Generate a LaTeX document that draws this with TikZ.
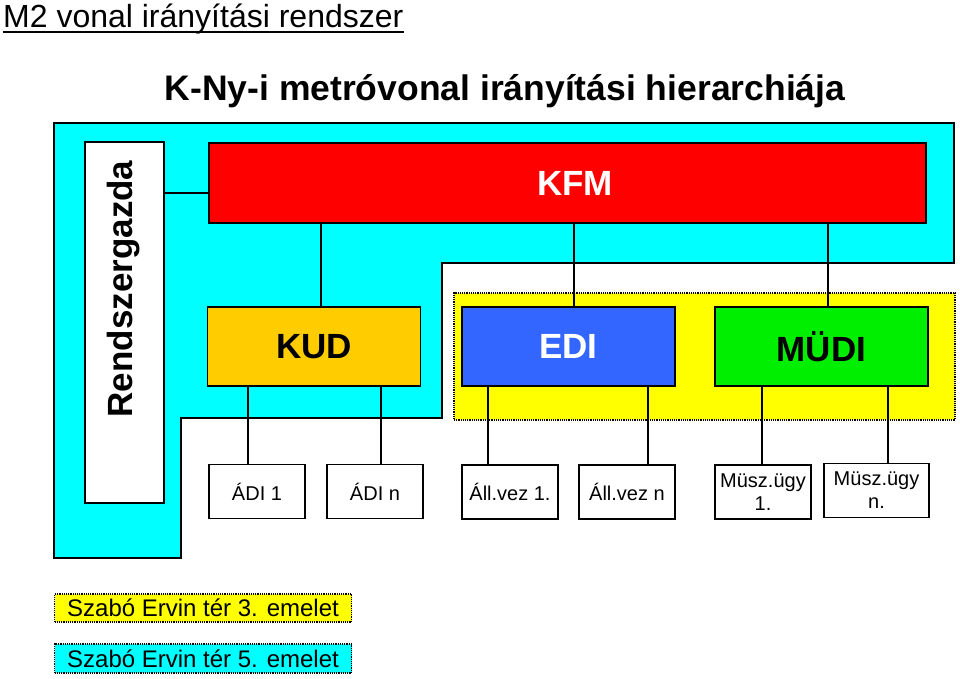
\documentclass[tikz,border=0pt]{standalone}
\usepackage{fontspec}
\setmainfont{Liberation Sans}

\definecolor{kfmred}{RGB}{255,0,0}
\definecolor{kudorange}{RGB}{255,204,0}
\definecolor{ediblue}{RGB}{51,102,255}
\definecolor{mudigreen}{RGB}{0,238,0}
\definecolor{floorcyan}{RGB}{0,255,255}
\definecolor{flooryellow}{RGB}{255,255,0}

\tikzset{
	unit/.style={draw,line width=1.3pt,minimum width=213pt,minimum height=79pt,inner sep=0pt,font=\fontsize{35}{40}\selectfont\bfseries},
	sub/.style={draw,fill=white,line width=1.3pt,minimum width=96pt,minimum height=54pt,inner sep=0pt,align=center,font=\fontsize{20}{23}\selectfont},
	wire/.style={line width=1.3pt},
	floor/.style={draw,line width=1.2pt,densely dotted},
}

\begin{document}
\begin{tikzpicture}[x=1pt,y=-1pt]
	\useasboundingbox (0,0) rectangle (960,678);

	\node[anchor=base west,inner sep=0pt,font=\fontsize{32}{36}\selectfont] (title) at (3,27) {M2 vonal irányítási rendszer};
	\draw[line width=1.3pt] ([yshift=-5pt]title.base west) -- ([yshift=-5pt]title.base east);

	\node[anchor=base,inner sep=0pt,font=\fontsize{35.5}{40}\selectfont\bfseries] (subtitle) at (505,100) {K-Ny-i metróvonal irányítási hierarchiája};

	% 5. emelet
	\draw[fill=floorcyan,line width=1.3pt] (54,123) -- (954,123) -- (954,263) -- (442,263) -- (442,418) -- (181,418) -- (181,558) -- (54,558) -- cycle;

	% 3. emelet
	\node[floor,fill=flooryellow,minimum width=501pt,minimum height=127pt] (floor3) at (704.5,356.5) {};

	\node[draw,fill=white,line width=1.3pt,minimum width=79pt,minimum height=361pt] (rgazda) at (124.5,322.5) {};
	\node[rotate=90,inner sep=0pt,font=\fontsize{35}{40}\selectfont\bfseries] (rgazdatext) at (124,289) {Rendszergazda};

	\node[unit,fill=kfmred,text=white,minimum width=717pt,minimum height=80pt] (kfm) at (567.5,183) {\hspace*{15pt}KFM};

	\node[unit,fill=kudorange] (kud) at (314,346.5) {KUD};
	\node[unit,fill=ediblue,text=white] (edi) at (568.5,346.5) {EDI};
	\node[unit,fill=mudigreen] (mudi) at (821.5,346.5) {MÜDI};

	\draw[wire] ([yshift=-10pt]kfm.west) -- ([yshift=-10pt]kfm.west -| rgazda.east);
	\draw[wire] ([xshift=7pt]kud.north) -- ([xshift=7pt]kud.north |- kfm.south);
	\draw[wire] ([xshift=5.5pt]edi.north) -- ([xshift=5.5pt]edi.north |- kfm.south);
	\draw[wire] ([xshift=6.5pt]mudi.north) -- ([xshift=6.5pt]mudi.north |- kfm.south);

	\node[sub] (adi1) at (257,491.5) {ÁDI 1};
	\node[sub] (adin) at (375,491.5) {ÁDI n};
	\node[sub] (allvez1) at (510,492) {Áll.vez 1.};
	\node[sub] (allvezn) at (627,492) {Áll.vez n};
	\node[sub] (musz1) at (763,492) {Müsz.ügy\\1.};
	\node[sub,minimum width=105pt] (muszn) at (876.5,490.5) {Müsz.ügy\\n.};

	\draw[wire] ([xshift=-9pt]adi1.north) -- ([xshift=-9pt]adi1.north |- kud.south);
	\draw[wire] ([xshift=6pt]adin.north) -- ([xshift=6pt]adin.north |- kud.south);
	\draw[wire] ([xshift=-22pt]allvez1.north) -- ([xshift=-22pt]allvez1.north |- edi.south);
	\draw[wire] ([xshift=21pt]allvezn.north) -- ([xshift=21pt]allvezn.north |- edi.south);
	\draw[wire] ([xshift=-1pt]musz1.north) -- ([xshift=-1pt]musz1.north |- mudi.south);
	\draw[wire] ([xshift=11.5pt]muszn.north) -- ([xshift=11.5pt]muszn.north |- mudi.south);

	\node[floor,fill=flooryellow,minimum width=297pt,minimum height=28pt,inner sep=0pt,font=\fontsize{24}{28}\selectfont] (legend3) at (203,608) {Szabó Ervin tér 3. emelet};
	\node[floor,fill=floorcyan,minimum width=297pt,minimum height=29pt,inner sep=0pt,font=\fontsize{24}{28}\selectfont] (legend5) at (203,658.5) {Szabó Ervin tér 5. emelet};
\end{tikzpicture}
\end{document}
